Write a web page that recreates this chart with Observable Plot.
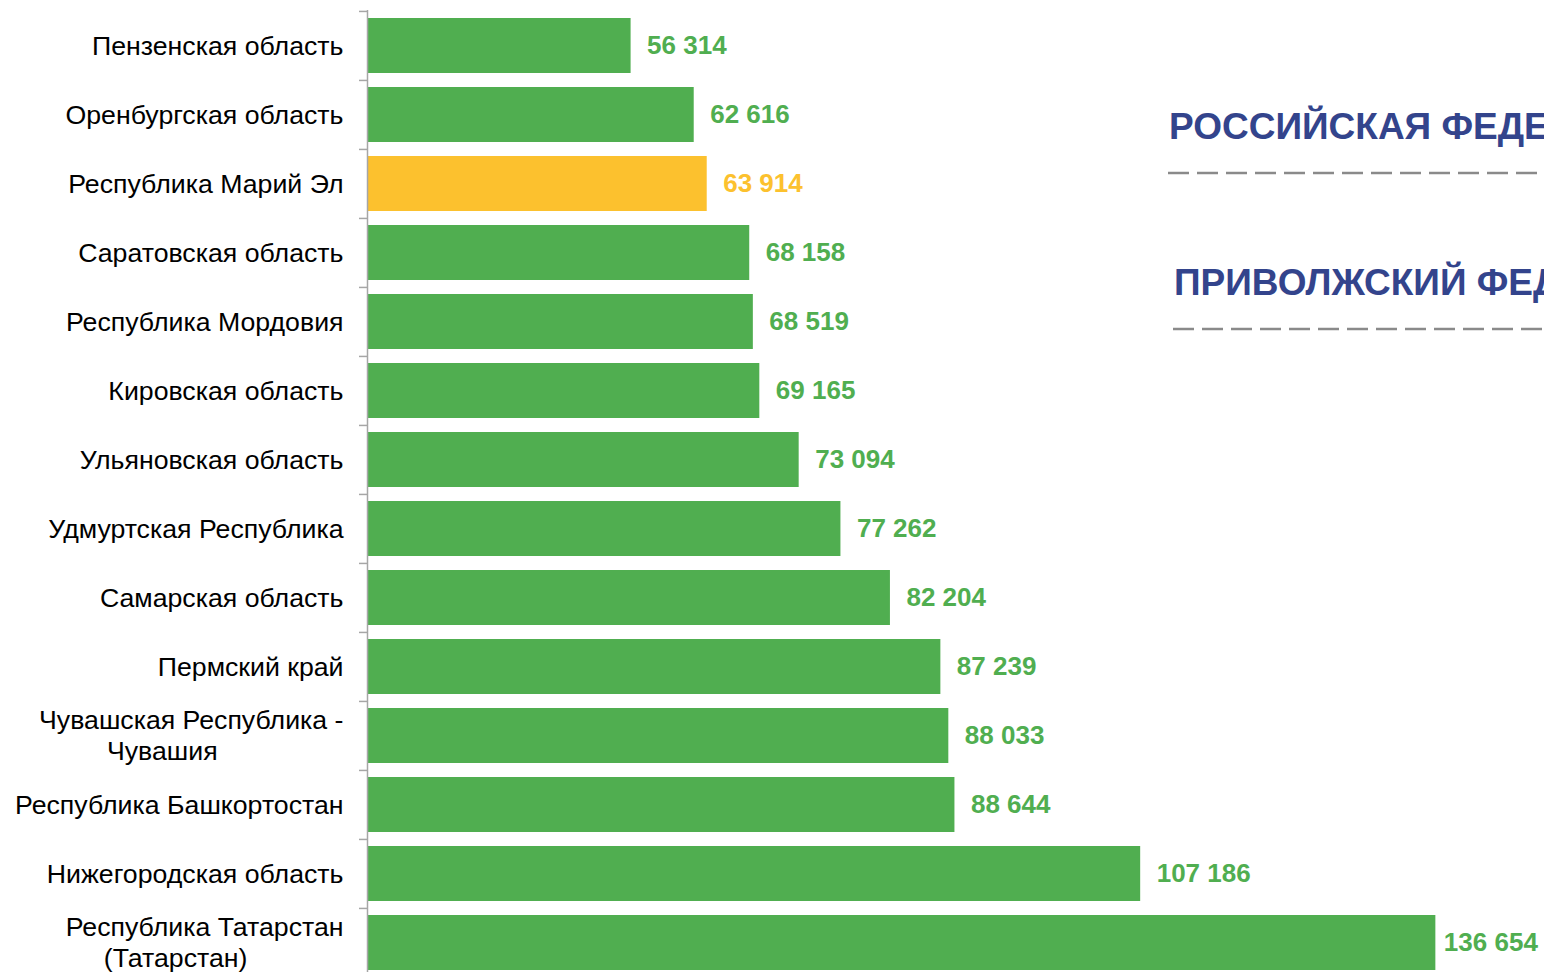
<!DOCTYPE html>
<html>
<head>
<meta charset="utf-8">
<script src="https://cdn.jsdelivr.net/npm/d3@7"></script>
<script src="https://cdn.jsdelivr.net/npm/@observablehq/plot@0.6"></script>
<style>
  html, body { margin: 0; padding: 0; background: #fff; overflow: hidden; width: 1544px; height: 972px; }
  #wrap { position: relative; width: 1544px; height: 972px; overflow: hidden; font-family: "Liberation Sans", Arial, sans-serif; }
  .note { position: absolute; white-space: nowrap; font-weight: bold; font-size: 37px; line-height: 37px; color: #33448C; }
  .dash { position: absolute; }
</style>
</head>
<body>
<div id="wrap"></div>
<script>
// Data
const regions = [
  "Пензенская область",
  "Оренбургская область",
  "Республика Марий Эл",
  "Саратовская область",
  "Республика Мордовия",
  "Кировская область",
  "Ульяновская область",
  "Удмуртская Республика",
  "Самарская область",
  "Пермский край",
  "Чувашская Республика -\nЧувашия",
  "Республика Башкортостан",
  "Нижегородская область",
  "Республика Татарстан\n(Татарстан)"
];
const values = [56314, 62616, 63914, 68158, 68519, 69165, 73094, 77262, 82204, 87239, 88033, 88644, 107186, 136654];
const highlighted = ["Республика Марий Эл"];
const notes = ["РОССИЙСКАЯ ФЕДЕРАЦИЯ", "ПРИВОЛЖСКИЙ ФЕДЕРАЛЬНЫЙ ОКРУГ"];

const GREEN = "#50AE50";
const YELLOW = "#FCC12E";
const FONT = "'Liberation Sans', Arial, sans-serif";
const LABEL_SIZE = 26.7;

const data = regions.map((r, i) => ({region: r, value: values[i], hl: highlighted.includes(r)}));
const maxVal = d3.max(values);
const fmt = v => d3.format(",")(v).replace(/,/g, "\u00a0");

const xMin = 30000, xMax = 147500;
const W = 1544, ML = 367;
const yTop = 10, yBottom = 978;
const step = (yBottom - yTop) / regions.length;
const pxPerUnit = (W - ML) / (xMax - xMin);

// text measuring for wrapped (two-line) labels
const ctx = document.createElement("canvas").getContext("2d");
ctx.font = `${LABEL_SIZE}px ${FONT}`;
const measure = t => ctx.measureText(t).width;

const single = data.filter(d => !d.region.includes("\n"));
const wrapped = data.filter(d => d.region.includes("\n"));

const labelMarks = [
  Plot.text(single, {
    y: "region", x: xMin, dx: -24, text: "region", textAnchor: "end",
    fontSize: LABEL_SIZE, fill: "#000"
  })
];
wrapped.forEach(d => {
  const [l1, l2] = d.region.split("\n");
  const w1 = measure(l1);
  labelMarks.push(Plot.text([d], {
    y: "region", x: xMin, dx: -24, dy: -15.5, text: () => l1, textAnchor: "end",
    fontSize: LABEL_SIZE, fill: "#000"
  }));
  labelMarks.push(Plot.text([d], {
    y: "region", x: xMin, dx: -24 - w1 / 2 - 29, dy: 15.5, text: () => l2, textAnchor: "middle",
    fontSize: LABEL_SIZE, fill: "#000"
  }));
});

const chart = Plot.plot({
  width: W,
  height: yBottom,
  marginTop: yTop,
  marginBottom: 0,
  marginLeft: ML,
  marginRight: 0,
  style: {fontFamily: FONT, background: "#fff"},
  x: {domain: [xMin, xMax], axis: null},
  y: {domain: regions, axis: null, paddingInner: 0.2, paddingOuter: 0.1},
  marks: [
    Plot.barX(data, {x1: xMin, x2: "value", y: "region", fill: d => d.hl ? YELLOW : GREEN}),
    Plot.ruleX([xMin], {stroke: "#a6a6a6", strokeWidth: 1.5}),
    Plot.ruleY(regions, {y: d => d, x1: xMin, x2: xMin, insetLeft: -8, dy: -step / 2, stroke: "#a6a6a6", strokeWidth: 1.5}),
    ...labelMarks,
    Plot.text(data.filter(d => d.value !== maxVal), {
      y: "region", x: "value", dx: 16, text: d => fmt(d.value), textAnchor: "start",
      fontSize: 26, fontWeight: "bold", fill: d => d.hl ? YELLOW : GREEN
    }),
    Plot.text(data.filter(d => d.value === maxVal), {
      y: "region", x: "value", dx: 8, text: d => fmt(d.value), textAnchor: "start",
      fontSize: 26, fontWeight: "bold", fill: d => d.hl ? YELLOW : GREEN
    })
  ]
});

const wrap = document.getElementById("wrap");
wrap.appendChild(chart);

// Right-side annotations
const notePos = [{left: 1169, top: 108, lineY: 173, lineX: 1168}, {left: 1174, top: 264, lineY: 329, lineX: 1173}];
notes.forEach((t, i) => {
  const d = document.createElement("div");
  d.className = "note";
  d.textContent = t;
  d.style.left = notePos[i].left + "px";
  d.style.top = notePos[i].top + "px";
  wrap.appendChild(d);
  const s = d3.create("svg").attr("class", "dash")
    .attr("width", W - notePos[i].lineX).attr("height", 6)
    .style("left", notePos[i].lineX + "px").style("top", (notePos[i].lineY - 3) + "px");
  s.append("line").attr("x1", 0).attr("x2", W - notePos[i].lineX).attr("y1", 3).attr("y2", 3)
    .attr("stroke", "#8a8a8a").attr("stroke-width", 2.5).attr("stroke-dasharray", "21 8");
  wrap.appendChild(s.node());
});
</script>
</body>
</html>
